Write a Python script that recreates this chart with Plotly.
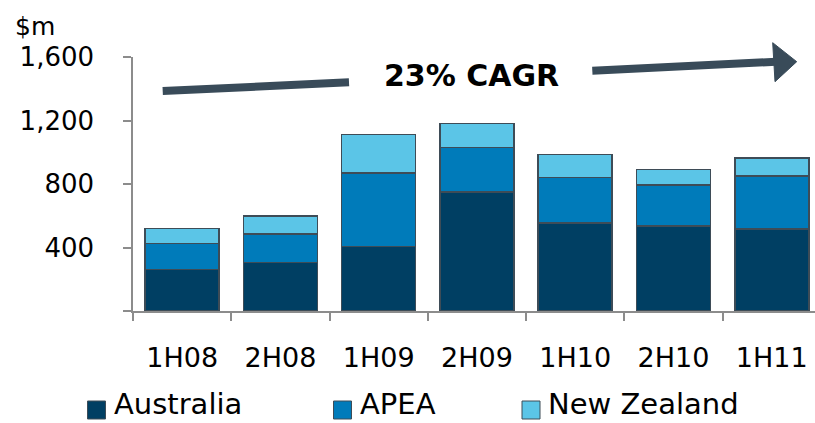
import plotly.graph_objects as go

# Half-year periods and revenue by region ($m)
periods = ["1H08", "2H08", "1H09", "2H09", "1H10", "2H10", "1H11"]
australia = [262, 306, 405, 749, 553, 536, 517]
apea = [164, 179, 465, 281, 289, 258, 334]
new_zealand = [95, 114, 242, 152, 145, 96, 113]

series = [
    ("Australia", australia, "#003F63"),
    ("APEA", apea, "#007BBA"),
    ("New Zealand", new_zealand, "#5BC5E7"),
]

y_ticks = [0, 400, 800, 1200, 1600]
y_ticktext = ["", "400", "800", "1,200", "1,600"]

FONT = "DejaVu Sans"
W, H = 815, 423
PL, PR, PT, PB = 133, 815, 57, 311  # plot area edges in pixels


def fx(px):
    return (px - PL) / (PR - PL)


def fy(py):
    return (PB - py) / (PB - PT)


fig = go.Figure()
for name, vals, color in series:
    fig.add_trace(go.Bar(
        x=periods, y=vals, name=name,
        marker=dict(color=color, line=dict(color="#3E4C57", width=1.5)),
        showlegend=False,
    ))

shapes = []
annotations = []

# CAGR arrow drawn in two segments around the label
arrow_col = "#394B59"
shapes.append(dict(type="line", xref="paper", yref="paper",
                   x0=fx(162.7), y0=fy(91), x1=fx(349), y1=fy(82.3),
                   line=dict(color=arrow_col, width=8)))
shapes.append(dict(type="line", xref="paper", yref="paper",
                   x0=fx(592.3), y0=fy(70.7), x1=fx(776), y1=fy(61.7),
                   line=dict(color=arrow_col, width=8)))
shapes.append(dict(type="path", xref="paper", yref="paper",
                   path=f"M {fx(772.7)} {fy(42.7)} L {fx(796.7)} {fy(61.7)} "
                        f"L {fx(775)} {fy(81.7)} Z",
                   fillcolor=arrow_col, line=dict(color=arrow_col, width=1)))
annotations.append(dict(text="<b>23% CAGR</b>", xref="paper", yref="paper",
                        x=fx(471), y=fy(75), showarrow=False,
                        xanchor="center", yanchor="middle",
                        font=dict(family=FONT, size=30, color="#000000")))

# Unit label above the value axis
annotations.append(dict(text="$m", xref="paper", yref="paper",
                        x=fx(13), y=fy(10), showarrow=False,
                        xanchor="left", yanchor="top",
                        font=dict(family=FONT, size=25, color="#000000")))

# Legend row
legend_items = [("Australia", 87.5), ("APEA", 333.5), ("New Zealand", 522)]
for (name, vals, color), (_, left) in zip(series, legend_items):
    shapes.append(dict(type="rect", xref="paper", yref="paper",
                       x0=fx(left), x1=fx(left + 18), y0=fy(419), y1=fy(401),
                       fillcolor=color, line=dict(color="#3E4C57", width=1)))
    annotations.append(dict(text=name, xref="paper", yref="paper",
                            x=fx(left + 24), y=fy(404), showarrow=False,
                            xanchor="left", yanchor="middle",
                            font=dict(family=FONT, size=29, color="#000000")))

fig.update_layout(
    width=W, height=H,
    margin=dict(l=PL, r=W - PR, t=PT, b=H - PB),
    barmode="stack", bargap=0.247,
    plot_bgcolor="white", paper_bgcolor="white",
    font=dict(family=FONT, color="#000000"),
    shapes=shapes, annotations=annotations,
    showlegend=False,
)
fig.update_xaxes(
    type="category", range=[-0.5, 6.44],
    showline=True, linecolor="#8C8C8C", linewidth=1.5,
    ticks="outside", ticklen=8, tickcolor="#8C8C8C", tickwidth=1.5,
    tickson="boundaries", showgrid=False,
    tickfont=dict(family=FONT, size=27, color="#000000"),
    ticklabelstandoff=22,
)
fig.update_yaxes(
    range=[0, 1600], tickvals=y_ticks, ticktext=y_ticktext,
    showline=True, linecolor="#8C8C8C", linewidth=1.5,
    ticks="outside", ticklen=8, tickcolor="#8C8C8C", tickwidth=1.5,
    showgrid=False, zeroline=False,
    tickfont=dict(family=FONT, size=26, color="#000000"),
    ticklabelstandoff=24,
)

fig.write_html("out.html")
